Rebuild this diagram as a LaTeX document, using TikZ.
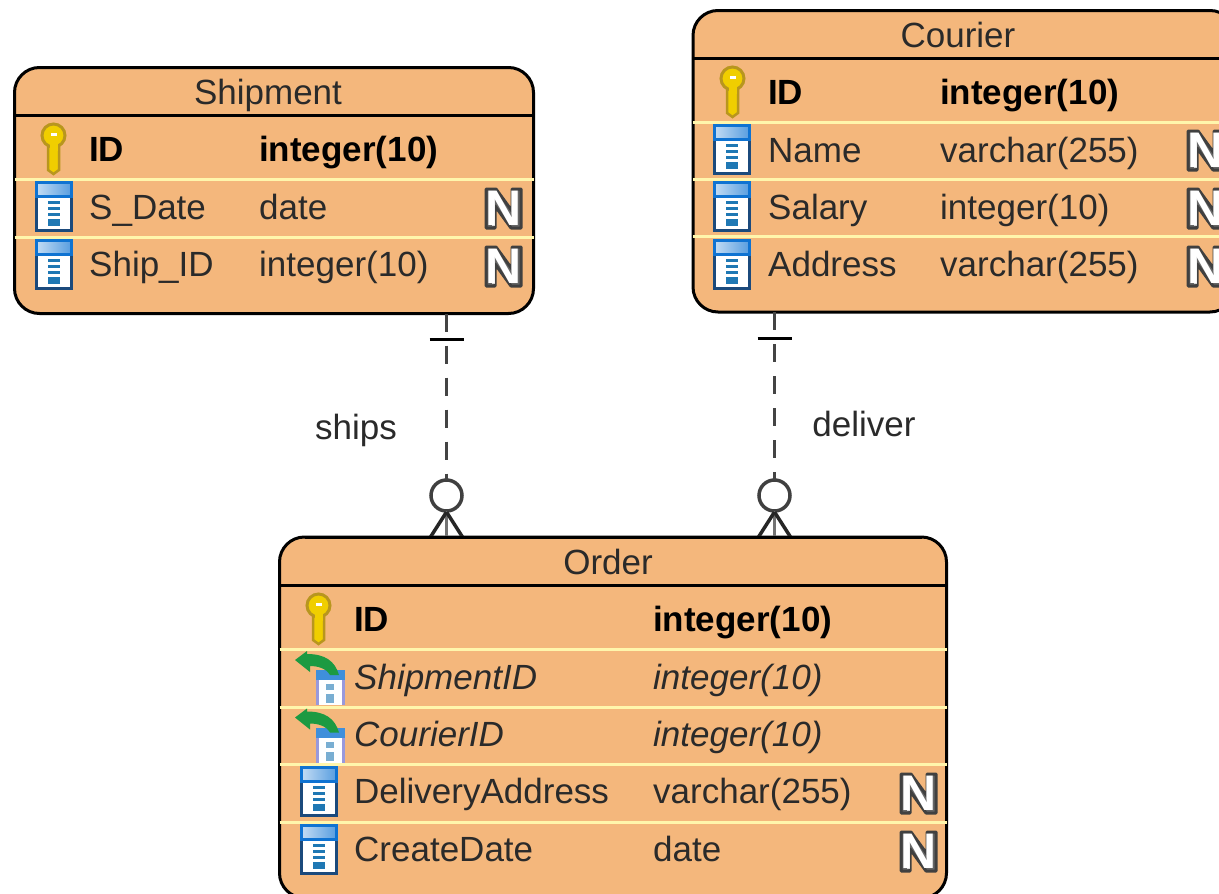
\documentclass[tikz,border=0pt]{standalone}
\usepackage{fontspec}
\setmainfont{Liberation Sans}
\definecolor{tblfill}{HTML}{F4B77C}
\definecolor{sepcol}{HTML}{FFF6AC}
\definecolor{txtcol}{HTML}{2A2A2A}
\definecolor{connline}{HTML}{444444}
\definecolor{coledge}{HTML}{1B4A7C}
\definecolor{colhead}{HTML}{0F73D2}
\definecolor{coldash}{HTML}{1F78B4}
\definecolor{keyfill}{HTML}{F0CE00}
\definecolor{keyedge}{HTML}{B8961E}
\definecolor{fkgreen}{HTML}{1C9A42}
\tikzset{
  x=1pt,y=-1pt,
  tbl/.style={draw=black,line width=3pt,fill=tblfill,rounded corners=25pt,anchor=north west,outer sep=0pt,inner sep=0pt},
  headline/.style={draw=black,line width=3pt},
  sepline/.style={draw=sepcol,line width=3pt},
  title/.style={font=\fontsize{35}{35}\selectfont,text=txtcol,anchor=base,inner sep=0pt},
  cell/.style={font=\fontsize{35}{35}\selectfont,text=txtcol,anchor=base west,inner sep=0pt},
  pk/.style={font=\fontsize{35}{35}\selectfont\bfseries,text=black,anchor=base west,inner sep=0pt},
  fk/.style={font=\fontsize{35}{35}\selectfont\itshape,text=txtcol,anchor=base west,inner sep=0pt},
  rel/.style={draw=connline,line width=3pt,dash pattern=on 18pt off 14pt},
  crow/.style={draw=black!85,line width=3pt},
  ringmark/.style={circle,draw=black!75,line width=3.5pt,fill=white,minimum size=31pt,inner sep=0pt,outer sep=0pt},
  reltext/.style={font=\fontsize{35}{35}\selectfont,text=txtcol,anchor=base,inner sep=0pt},
  nmark/.style={font=\fontsize{50}{50}\selectfont\bfseries,text=white,inner sep=0pt},
  keyicon/.pic={
    \fill[keyfill,draw=keyedge,line width=2.5pt] (-5.5,20) -- (-5.5,46) -- (0,50) -- (5.5,46) -- (5.5,20) -- cycle;
    \fill[keyfill,draw=keyedge,line width=3pt] (0,11.5) circle[radius=11.5];
    \fill[keyfill] (-4,19) rectangle (4,27);
    \fill[white] (-3,9) rectangle (3,12);
  },
  colicon/.pic={
    \fill[white,draw=coledge,line width=3pt] (1.5,1.5) rectangle (36.5,49.5);
    \shade[left color=colhead!25!white,right color=colhead!70!white,draw=colhead,line width=3pt] (1.5,1.5) rectangle (36.5,15);
    \foreach \yy in {20,26,32} \fill[coldash] (13,\yy) rectangle (25,\yy+3);
    \fill[coldash] (13,38) rectangle (25,45);
  },
  fkicon/.pic={
    \fill[white] (21,19) rectangle (50,54);
    \fill[black!35!blue!40!white] (21,19) rectangle (24,54);
    \fill[black!35!blue!40!white] (47,19) rectangle (50,54);
    \fill[colhead!80!white] (21,19) rectangle (50,29);
    \fill[coldash!60!white] (31,33) rectangle (39,39);
    \fill[coldash!60!white] (31,43) rectangle (39,52);
    \fill[fkgreen] (0,9) -- (12,0) -- (12,3) .. controls (30,3) and (40,10) .. (44,24) -- (35,24) .. controls (31,17) and (22,15) .. (15,15) -- (15,21) -- cycle;
  },
  noticon/.pic={
    \fill[black!60,draw=black!75,line width=3pt,line join=round] (2,2) -- (12,2) -- (28,24) -- (28,2) -- (37,2) -- (37,41) -- (27,41) -- (11,19) -- (11,41) -- (2,41) -- cycle;
    \fill[white!85!black] (8,4) -- (8,39) -- (11,39) -- (11,4) -- cycle;
  }
}
\begin{document}
\begin{tikzpicture}
\useasboundingbox (0,0) rectangle (1219,894);
\clip (0,0) rectangle (1219,894);
\fill[white] (0,0) rectangle (1219,894);

% ---- tables
\node[tbl,minimum width=519pt,minimum height=246pt] (shipment) at (14.5,67.5) {};
\node[tbl,minimum width=542pt,minimum height=301.5pt] (courier) at (693,10.5) {};
\node[tbl,minimum width=667pt,minimum height=361pt] (order) at (279.5,537) {};

% ---- shipment
\draw[headline] (shipment.west |- 0,115.5) -- (shipment.east |- 0,115.5);
\draw[sepline] (shipment.west |- 0,179.5) -- (shipment.east |- 0,179.5);
\draw[sepline] (shipment.west |- 0,237) -- (shipment.east |- 0,237);
\node[title] (shipmenttitle) at (268,104) {Shipment};
\pic at (53.5,124) {keyicon};
\pic at (35,181) {colicon};
\pic at (35,239) {colicon};
\node[pk] (s1a) at (89,161.5) {ID};
\node[pk] (s1b) at (259,161.5) {integer(10)};
\node[cell] (s2a) at (89,219) {S\_Date};
\node[cell] (s2b) at (259,219) {date};
\node[cell] (s3a) at (89,276.5) {Ship\_ID};
\node[cell] (s3b) at (259,276.5) {integer(10)};
\pic at (484,187) {noticon};
\pic at (484,245) {noticon};
\node[nmark] (sn1) at (503.5,208.5) {N};
\node[nmark] (sn2) at (503.5,266.5) {N};

% ---- courier
\draw[headline] (courier.west |- 0,58.5) -- (courier.east |- 0,58.5);
\draw[sepline] (courier.west |- 0,122) -- (courier.east |- 0,122);
\draw[sepline] (courier.west |- 0,179.5) -- (courier.east |- 0,179.5);
\draw[sepline] (courier.west |- 0,236.5) -- (courier.east |- 0,236.5);
\node[title] (couriertitle) at (958,47) {Courier};
\pic at (732.5,67) {keyicon};
\pic at (713,124) {colicon};
\pic at (713,181) {colicon};
\pic at (713,239) {colicon};
\node[pk] (c1a) at (768,104.5) {ID};
\node[pk] (c1b) at (940,104.5) {integer(10)};
\node[cell] (c2a) at (768,162) {Name};
\node[cell] (c2b) at (940,162) {varchar(255)};
\node[cell] (c3a) at (768,219) {Salary};
\node[cell] (c3b) at (940,219) {integer(10)};
\node[cell] (c4a) at (768,276.5) {Address};
\node[cell] (c4b) at (940,276.5) {varchar(255)};
\pic at (1186,129) {noticon};
\pic at (1186,187) {noticon};
\pic at (1186,245) {noticon};
\node[nmark] (cn1) at (1205.5,150.5) {N};
\node[nmark] (cn2) at (1205.5,208.5) {N};
\node[nmark] (cn3) at (1205.5,266.5) {N};

% ---- order
\draw[headline] (order.west |- 0,585.5) -- (order.east |- 0,585.5);
\draw[sepline] (order.west |- 0,649.5) -- (order.east |- 0,649.5);
\draw[sepline] (order.west |- 0,707) -- (order.east |- 0,707);
\draw[sepline] (order.west |- 0,764.5) -- (order.east |- 0,764.5);
\draw[sepline] (order.west |- 0,822) -- (order.east |- 0,822);
\node[title] (ordertitle) at (608,574) {Order};
\pic at (318.5,594) {keyicon};
\pic at (295,651) {fkicon};
\pic at (295,708.5) {fkicon};
\pic at (300,766) {colicon};
\pic at (300,824) {colicon};
\node[pk] (o1a) at (354,631.5) {ID};
\node[pk] (o1b) at (653,631.5) {integer(10)};
\node[fk] (o2a) at (354,689) {ShipmentID};
\node[fk] (o2b) at (653,689) {integer(10)};
\node[fk] (o3a) at (354,746) {CourierID};
\node[fk] (o3b) at (653,746) {integer(10)};
\node[cell] (o4a) at (354,803.5) {DeliveryAddress};
\node[cell] (o4b) at (653,803.5) {varchar(255)};
\node[cell] (o5a) at (354,861.5) {CreateDate};
\node[cell] (o5b) at (653,861.5) {date};
\pic at (899,772) {noticon};
\pic at (899,830) {noticon};
\node[nmark] (on1) at (918.5,793.5) {N};
\node[nmark] (on2) at (918.5,851.5) {N};

% ---- connectors
\node[ringmark] (ringA) at (446.5,495.5) {};
\node[ringmark] (ringB) at (774.5,495.5) {};
\draw[rel] (shipment.south -| ringA) -- (ringA.north);
\draw[rel] (courier.south -| ringB) -- (ringB.north);
\draw[crow,draw=black] ([xshift=-17pt]shipment.south -| ringA) ++(0,26) coordinate (tickA1) -- ++(34,0) coordinate (tickA2);
\draw[crow,draw=black] ([xshift=-17pt]courier.south -| ringB) ++(0,26) coordinate (tickB1) -- ++(34,0) coordinate (tickB2);
\foreach \r/\t in {ringA/order,ringB/order}{
  \draw[crow,draw=black!55] (\r.south) -- (\r.south |- \t.north);
  \draw[crow,line width=3.5pt] ([yshift=-1pt]\r.south) -- ([xshift=-16pt]\r.south |- \t.north);
  \draw[crow,line width=3.5pt] ([yshift=-1pt]\r.south) -- ([xshift=16pt]\r.south |- \t.north);
}
\node[reltext] (lships) at (356,439) {ships};
\node[reltext] (ldeliver) at (864,436) {deliver};
% redraw top border of the order table over the crow feet
\draw[headline] (order.north west) ++(25,0) -- ([xshift=-25pt]order.north east);
\end{tikzpicture}
\end{document}
